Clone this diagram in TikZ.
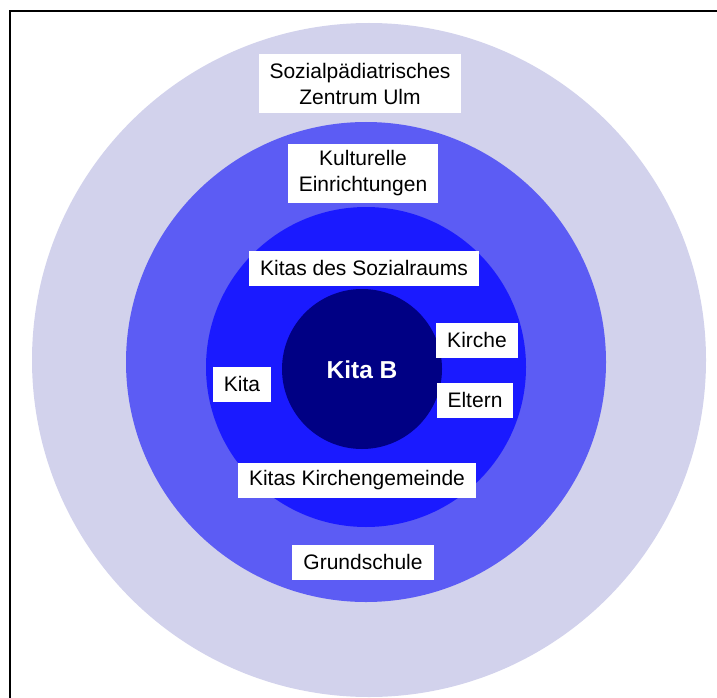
\documentclass[tikz,border=0pt]{standalone}
\usepackage{fontspec}
\setmainfont{Liberation Sans}
\definecolor{ringout}{RGB}{210,210,236}
\definecolor{ringmid}{RGB}{92,92,244}
\definecolor{ringin}{RGB}{26,26,255}
\definecolor{kern}{RGB}{0,0,132}
\tikzset{
  lbl/.style={fill=white,inner xsep=11pt,inner ysep=0pt,minimum height=35pt,
    align=center,font=\fontsize{21}{26}\selectfont},
  lbltwo/.style={lbl,minimum height=59pt}
}

\begin{document}
\begin{tikzpicture}[x=1pt,y=-1pt]
\useasboundingbox (0,0) rectangle (717,698);
\clip (0,0) rectangle (717,698);
\draw[line width=2pt] (10,11.5) rectangle (740,720);
\fill[ringout] (369,360) circle (337);
\fill[ringmid] (366,362) circle (240);
\fill[ringin] (366,367) circle (160);
\fill[kern] (362,369) circle (80);
\node[lbltwo] (spz) at (360,84) {Sozialpädiatrisches\\Zentrum Ulm};
\node[lbltwo] (kultur) at (363,173) {Kulturelle\\Einrichtungen};
\node[lbl] (sozialraum) at (364,268) {Kitas des Sozialraums};
\node[lbl] (kirche) at (477,340) {Kirche};
\node[lbl] (eltern) at (475,400) {Eltern};
\node[lbl] (kita) at (242,384) {Kita};
\node[text=white,font=\fontsize{24.5}{28}\selectfont\bfseries] (kitab) at (362,370) {Kita B};
\node[lbl] (gemeinde) at (357,480) {Kitas Kirchengemeinde};
\node[lbl] (schule) at (363,562) {Grundschule};
\end{tikzpicture}
\end{document}
